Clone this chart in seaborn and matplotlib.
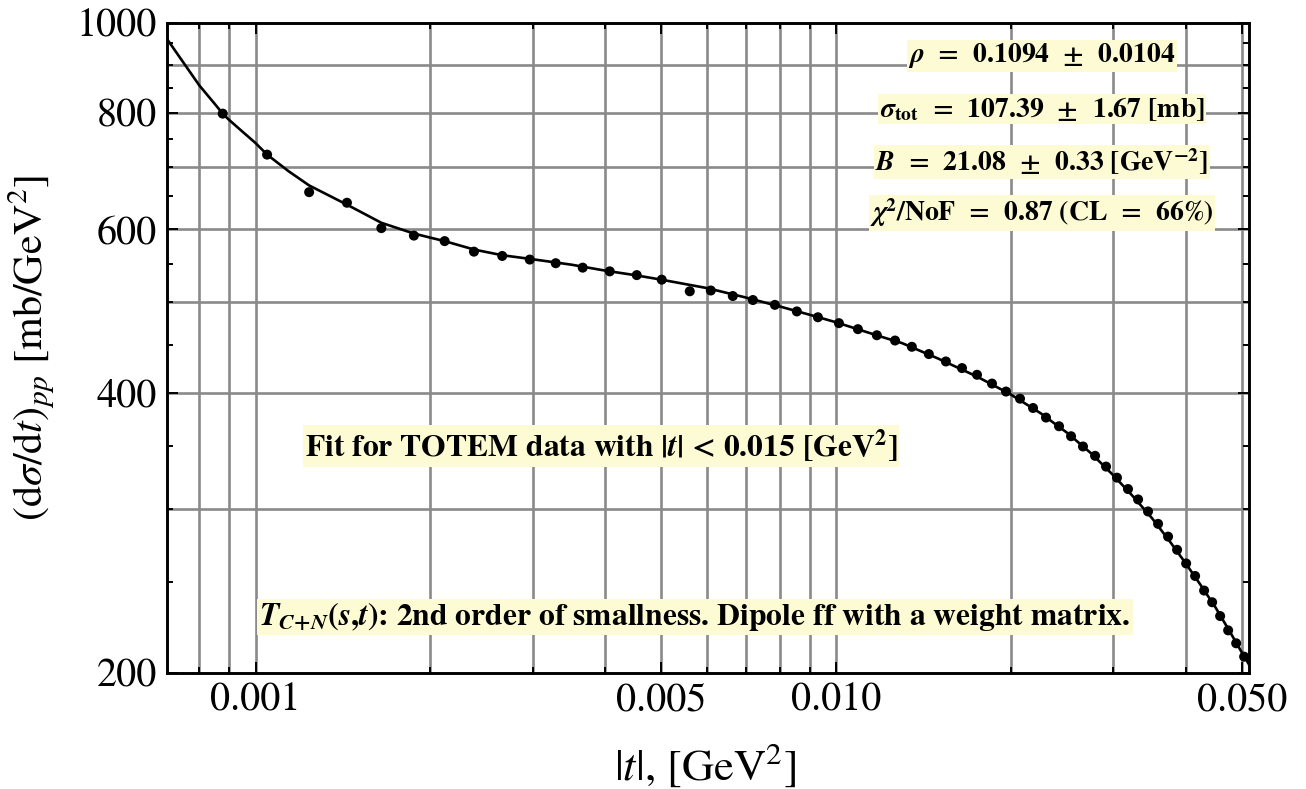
import matplotlib
matplotlib.use("Agg")
import matplotlib.pyplot as plt
import seaborn as sns
from matplotlib.ticker import FixedLocator, FixedFormatter, NullFormatter

# TOTEM |t| points [GeV^2] and measured dsigma/dt [mb/GeV^2]
t_data = [0.000878, 0.001047, 0.001237, 0.001437, 0.001647, 0.001874, 0.002117,
          0.002378, 0.00266, 0.002967, 0.003289, 0.00366, 0.004074, 0.004535,
          0.005007, 0.005596, 0.006083, 0.006637, 0.007188, 0.007843, 0.008556,
          0.009302, 0.01011, 0.0109, 0.01175, 0.01263, 0.0135, 0.01444, 0.01545,
          0.01647, 0.01748, 0.01855, 0.01961, 0.02073, 0.02183, 0.02298, 0.0242,
          0.02538, 0.02661, 0.02792, 0.02916, 0.03045, 0.03181, 0.03311, 0.03444,
          0.03584, 0.03729, 0.03865, 0.04006, 0.04151, 0.04302, 0.04441, 0.04584,
          0.04732, 0.04885, 0.05042]
dsig_data = [798, 721, 657, 640, 601, 590, 582,
             567, 561, 556, 551, 545, 540, 535,
             529, 514, 515, 508, 503, 497, 489,
             482, 475, 468, 461, 455, 448, 440, 432,
             425, 418, 409, 401, 394, 385, 376, 368,
             359, 350, 342, 333, 324, 315, 307, 298,
             289, 280, 271, 262, 254, 245, 238, 230,
             222, 215, 208]

# fitted model curve
t_fit = [0.000704, 0.00075, 0.0008, 0.00085, 0.000878, 0.0009, 0.00095, 0.001,
         0.001047, 0.00114, 0.001237, 0.001437, 0.001647, 0.001874, 0.002,
         0.002117, 0.002378, 0.00266, 0.002967, 0.003289, 0.0035, 0.004,
         0.0045, 0.005, 0.006, 0.007, 0.008, 0.009, 0.01, 0.011, 0.012, 0.013,
         0.015, 0.0175, 0.02, 0.0225, 0.025, 0.0275, 0.03, 0.0325, 0.035,
         0.0375, 0.04, 0.0425, 0.045, 0.0475, 0.05, 0.0514]
dsig_fit = [960, 907, 856, 818, 798, 786, 763, 742,
            721, 692, 668, 637, 609, 593, 587,
            582, 570, 562, 557, 552, 549, 541,
            535, 529, 518, 506, 495, 485, 476, 467, 459, 452,
            435, 416, 398, 380, 362, 344, 326, 309, 293,
            277, 262, 248, 235, 222, 210, 204]

x_major = [0.001, 0.005, 0.01, 0.05]
x_major_labels = ["0.001", "0.005", "0.010", "0.050"]
x_minor = [0.0008, 0.0009, 0.002, 0.003, 0.004, 0.006, 0.007, 0.008, 0.009,
           0.02, 0.03, 0.04]
y_major = [200, 400, 600, 800, 1000]
y_major_labels = ["200", "400", "600", "800", "1000"]
y_minor = [250, 300, 350, 450, 500, 550, 650, 700, 750, 850, 900, 950]
y_grid = [300, 400, 500, 600, 700, 800, 900]

sns.set_theme(style="white")
plt.rcParams["font.family"] = ["STIXGeneral", "DejaVu Serif"]
plt.rcParams["mathtext.fontset"] = "stix"

W, H = 1306, 789
fig = plt.figure(figsize=(W / 100, H / 100), dpi=100)
L, R, T, B = 167, 1249, 22.5, 672.5
ax = fig.add_axes([L / W, 1 - B / H, (R - L) / W, (B - T) / H])
ax.set_xscale("log")
ax.set_yscale("log")
ax.set_xlim(0.000704, 0.0514)
ax.set_ylim(200, 1000)

grid_kw = dict(color="#8a8a8a", lw=1.9, zorder=0.5)
for g in sorted(x_major + x_minor):
    ax.axvline(g, **grid_kw)
for g in y_grid:
    ax.axhline(g, **grid_kw)

sns.lineplot(x=t_fit, y=dsig_fit, color="black", lw=1.9, ax=ax, zorder=3,
             estimator=None, sort=False)
sns.scatterplot(x=t_data, y=dsig_data, color="black", s=52, edgecolor="none",
                ax=ax, zorder=4)

ax.xaxis.set_major_locator(FixedLocator(x_major))
ax.xaxis.set_major_formatter(FixedFormatter(x_major_labels))
ax.xaxis.set_minor_locator(FixedLocator(x_minor))
ax.xaxis.set_minor_formatter(NullFormatter())
ax.yaxis.set_major_locator(FixedLocator(y_major))
ax.yaxis.set_major_formatter(FixedFormatter(y_major_labels))
ax.yaxis.set_minor_locator(FixedLocator(y_minor))
ax.yaxis.set_minor_formatter(NullFormatter())

ax.tick_params(which="both", direction="in", bottom=True, top=True,
               left=True, right=True, color="black", width=1.4)
ax.tick_params(which="major", length=8, labelsize=28.8, pad=7,
               labelcolor="black")
ax.tick_params(which="minor", length=4.5)
for s in ax.spines.values():
    s.set_color("black")
    s.set_linewidth(2.1)
    s.set_zorder(5)

ax.set_xlabel(r"$|t|$, [GeV$^2$]", fontsize=32, color="black")
ax.set_ylabel(r"$(\mathrm{d}\sigma/\mathrm{d}t)_{pp}$ [mb/GeV$^2$]",
              fontsize=30.3, color="black")
ax.xaxis.set_label_coords((705 - L) / (R - L), (B - 765) / (B - T))
ax.yaxis.set_label_coords((32 - L) / (R - L), (B - 348) / (B - T))
ax.xaxis.label.set_va("center")
ax.yaxis.label.set_va("center")

def ax_xy(px, py):
    return (px - L) / (R - L), (B - py) / (B - T)

def note(px, py, text, size, pad):
    ax.text(*ax_xy(px, py), text, transform=ax.transAxes, ha="center",
            va="center", fontsize=size, fontweight="bold", color="black",
            zorder=6, bbox=dict(facecolor="#fdfbd4", edgecolor="none", pad=pad))

note(1042, 56, r"$\mathbfit{\rho}$  =  0.1094  ±  0.0104", 20, 1.0)
note(1042, 109, r"$\mathbfit{\sigma}_{\mathbf{tot}}$  =  107.39  ±  1.67 [mb]", 20, 1.0)
note(1042, 162, r"$\mathbfit{B}$  =  21.08  ±  0.33 [GeV$^{\mathbf{-2}}$]", 20, 1.0)
note(1042, 213, r"$\mathbfit{\chi}^{\mathbf{2}}$/NoF  =  0.87 (CL  =  66%)", 20, 1.0)
note(601, 446, r"Fit for TOTEM data with |$\mathbfit{t}$| < 0.015 [GeV$^{\mathbf{2}}$]", 22.8, 1.5)
note(695, 617,
     r"$\mathbfit{T}_{\mathbfit{C}{\mathbf{+}}\mathbfit{N}}$($\mathbfit{s}$,$\mathbfit{t}$): 2nd order of smallness. Dipole ff with a weight matrix.",
     22.8, 1.5)

fig.savefig("out.png", dpi=100, facecolor="white")
